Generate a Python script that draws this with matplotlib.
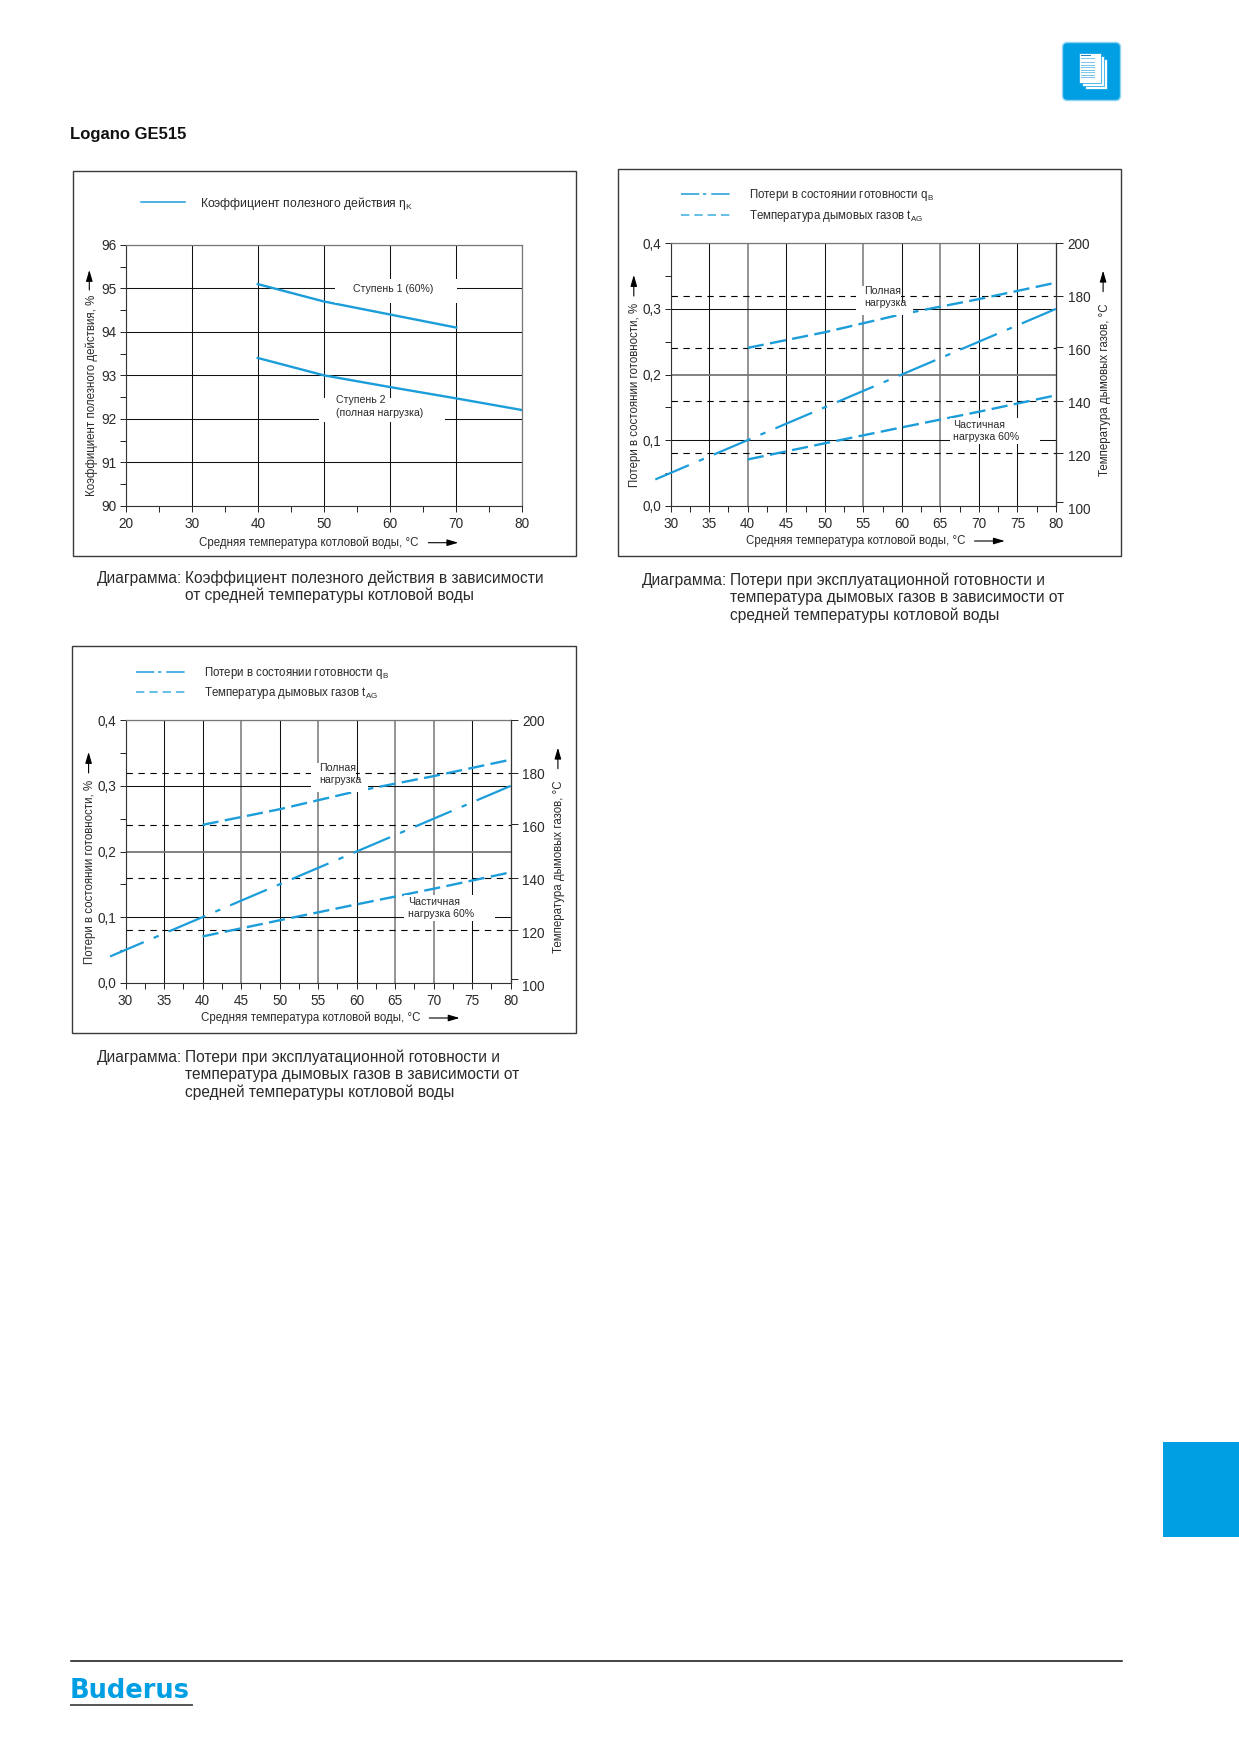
import matplotlib
matplotlib.use("Agg")
import matplotlib.pyplot as plt
from matplotlib.lines import Line2D
from matplotlib.patches import FancyBboxPatch, Rectangle

plt.rcParams['font.family'] = ['Liberation Sans', 'DejaVu Sans']
plt.rcParams['mathtext.fontset'] = 'custom'
plt.rcParams['mathtext.rm'] = 'Liberation Sans'
plt.rcParams['mathtext.default'] = 'rm'
plt.rcParams['lines.scale_dashes'] = False

BLUE = '#1b9dd9'
BRAND = '#009fe3'
INK = '#2a2a2a'

# --- chart 1: efficiency ---
eff_temp_stage1 = [40, 50, 60, 70]
eff_stage1 = [95.1, 94.7, 94.4, 94.1]
eff_temp_stage2 = [40, 50, 60, 70, 80]
eff_stage2 = [93.4, 93.0, 92.73, 92.47, 92.2]
eff_yticks = [90, 91, 92, 93, 94, 95, 96]
eff_xticks = [20, 30, 40, 50, 60, 70, 80]

# --- charts 2 and 3: standby losses and flue gas temperature ---
loss_temp = [28, 40, 50, 60, 70, 80]
loss_values = [0.04, 0.10, 0.15, 0.20, 0.25, 0.30]
flue_temp = [40, 50, 60, 70, 80]
flue_full = [160.8, 166.7, 173.5, 179.2, 185.4]
flue_part = [118.7, 124.8, 130.8, 136.7, 142.9]
loss_xticks = [30, 35, 40, 45, 50, 55, 60, 65, 70, 75, 80]
loss_yticks = [0.0, 0.1, 0.2, 0.3, 0.4]
loss_ylabels = ['0,0', '0,1', '0,2', '0,3', '0,4']
flue_ticks = [100, 120, 140, 160, 180, 200]
flue_marks = [102.6, 121.0, 140.8, 161.0, 180.3, 200.2]
flue_levels = [0.08, 0.16, 0.24, 0.32]

DASHDOT = (2.4, (28.7, 7.8, 3.9, 7.8))
LONGDASH = (0, (11.7, 4.6))
LEGEND_DASHDOT = (0, (13.2, 2.6, 2.4, 3.6, 13.2, 10))
LEGEND_DASH = (0, (6, 3.6))

fig = plt.figure(figsize=(12.39, 17.52), dpi=100)
page = fig.add_axes([0, 0, 1, 1], zorder=-1)
page.set_xlim(0, 1239)
page.set_ylim(1752, 0)
page.axis('off')


def make_axes(left, top, right, bottom):
    return fig.add_axes([left / 1239, 1 - bottom / 1752, (right - left) / 1239, (bottom - top) / 1752])


def arrow(x0, y0, x1, y1):
    page.annotate('', xy=(x1, y1), xytext=(x0, y0),
                  arrowprops=dict(arrowstyle='-|>,head_length=0.75,head_width=0.22', color='black',
                                  lw=0.8, shrinkA=0, shrinkB=0, mutation_scale=9))


def frame(left, top, right, bottom):
    page.add_patch(Rectangle((left, top), right - left, bottom - top, fill=False, ec='#3a3a3a', lw=1.0))


def caption(x, indent, y, first, rest):
    page.text(x, y, 'Диаграмма:', fontsize=11.2, color=INK, va='center')
    for i, line in enumerate([first] + rest):
        page.text(indent, y + i * 17.6, line, fontsize=11.2, color=INK, va='center')


def mask(ax, owner, x0, x1, y0, y1):
    owner.add_patch(Rectangle((x0, y0), x1 - x0, y1 - y0, fc='white', ec='none',
                              transform=ax.transData, zorder=5))


def style_axes(ax):
    ax.set_axisbelow(True)
    ax.grid(True, which='major', color='#111111', lw=0.75)
    ax.tick_params(which='both', direction='out', length=4.3, width=0.7, color='#222222',
                   labelsize=9.8, labelcolor=INK)
    ax.tick_params(axis='x', which='major', pad=3.6)
    ax.tick_params(axis='y', which='major', pad=2.2)
    for side in ['left', 'bottom']:
        ax.spines[side].set_linewidth(0.8)
        ax.spines[side].set_color('#333333')
    for side in ['top', 'right']:
        ax.spines[side].set_linewidth(0.9)
        ax.spines[side].set_color('#777777')


def efficiency_chart():
    frame(72.8, 170.7, 576.2, 556)
    ax = make_axes(125.5, 245, 522.4, 505.7)
    ax.set_xticks(eff_xticks)
    ax.set_xticks([25, 35, 45, 55, 65, 75], minor=True)
    ax.set_yticks(eff_yticks)
    ax.set_yticks([90.5, 91.5, 92.5, 93.5, 94.5, 95.5], minor=True)
    ax.set_xlim(20, 80)
    ax.set_ylim(90, 96)
    style_axes(ax)
    ax.plot(eff_temp_stage1, eff_stage1, color=BLUE, lw=1.7, zorder=3)
    ax.plot(eff_temp_stage2, eff_stage2, color=BLUE, lw=1.7, zorder=3)
    mask(ax, ax, 51.7, 70.16, 94.66, 95.21)
    mask(ax, ax, 49.3, 68.3, 91.93, 92.49)
    ax.text(54.36, 94.98, 'Ступень 1 (60%)', fontsize=7.6, color=INK, va='center', zorder=6)
    ax.text(51.75, 92.28, 'Ступень 2\n(полная нагрузка)', fontsize=7.6, color=INK, va='center',
            linespacing=1.35, zorder=6)
    ax.set_xlabel('Средняя температура котловой воды, °C', fontsize=8.3, color=INK, va='center')
    ax.xaxis.set_label_coords(309, 542.7, transform=page.transData)
    ax.set_ylabel('Коэффициент полезного действия, %', fontsize=8.3, color=INK, va='center')
    ax.yaxis.set_label_coords(91.5, 395.5, transform=page.transData)
    arrow(428.3, 542.7, 458.3, 542.7)
    arrow(89.3, 290, 89.3, 270)
    handle = Line2D([], [], color=BLUE, lw=1.1)
    ax.legend([handle], ['Коэффициент полезного действия η$_{K}$'], loc='center left',
              bbox_to_anchor=(141, 203.2), bbox_transform=page.transData, frameon=False,
              fontsize=8.7, handlelength=3.65, handletextpad=1.25, borderpad=0, borderaxespad=0,
              labelcolor=INK)


def losses_chart(dx, dy, frame_top, frame_bottom, grey_x, legend_y):
    frame(dx + 617.6, frame_top, dx + 1121, frame_bottom)
    ax = make_axes(dx + 670.7, dy + 243.3, dx + 1055.9, dy + 505.7)
    ax.set_xticks(loss_xticks)
    ax.set_xticks([v + 2.5 for v in loss_xticks[:-1]], minor=True)
    ax.set_yticks(loss_yticks, loss_ylabels)
    ax.set_yticks([0.05, 0.15, 0.25, 0.35], minor=True)
    ax.set_xlim(30, 80)
    ax.set_ylim(0, 0.4)
    style_axes(ax)
    for tick, line in zip(ax.get_xticks(), ax.get_xgridlines()):
        if tick in grey_x:
            line.set_color('#777777')
            line.set_linewidth(1.1)
    ax.get_ygridlines()[2].set_color('#777777')
    ax.get_ygridlines()[2].set_linewidth(1.3)
    ax.hlines(flue_levels, 30, 80, colors='black', linewidth=0.8, linestyles=[(0, (4.6, 4.0))], zorder=2)

    # the printed 100 label sits a little below the axis end, so this scale runs slightly lower than the plot
    right = make_axes(dx + 670.7, dy + 243.3, dx + 1055.9, dy + 509)
    right.patch.set_visible(False)
    right.xaxis.set_visible(False)
    right.yaxis.tick_right()
    right.yaxis.set_label_position('right')
    right.set_yticks(flue_ticks)
    right.set_yticks(flue_marks, minor=True)
    right.set_xlim(30, 80)
    right.set_ylim(100, 200.26)
    right.tick_params(axis='y', which='major', length=0, pad=8.4, labelsize=9.8, labelcolor=INK)
    right.tick_params(axis='y', which='minor', direction='out', length=5, width=0.7, color='#222222')
    for side in ['left', 'bottom', 'top']:
        right.spines[side].set_visible(False)
    right.spines['right'].set_color('#333333')
    right.spines['right'].set_linewidth(0.8)
    right.spines['right'].set_bounds(101.26, 200.26)

    ax.plot(loss_temp, loss_values, color=BLUE, lw=1.6, ls=DASHDOT, zorder=3, clip_on=False)
    right.plot(flue_temp, flue_full, color=BLUE, lw=1.7, ls=LONGDASH, zorder=3)
    right.plot(flue_temp, flue_part, color=BLUE, lw=1.7, ls=LONGDASH, zorder=3)

    mask(ax, right, 54.04, 59.95, 0.311, 0.335)
    mask(ax, right, 54.04, 61.5, 0.2907, 0.311)
    mask(ax, right, 66.2, 77.9, 0.0935, 0.133)
    right.text(55.16, 0.318, 'Полная\nнагрузка', fontsize=7.6, color=INK, va='center',
               linespacing=1.28, transform=ax.transData, zorder=6)
    right.text(66.66, 0.1138, 'Частичная\nнагрузка 60%', fontsize=7.6, color=INK, va='center',
               linespacing=1.28, transform=ax.transData, zorder=6)

    ax.set_xlabel('Средняя температура котловой воды, °C', fontsize=8.3, color=INK, va='center')
    ax.xaxis.set_label_coords(dx + 855.5, dy + 541, transform=page.transData)
    ax.set_ylabel('Потери в состоянии готовности, %', fontsize=8.3, color=INK, va='center')
    ax.yaxis.set_label_coords(dx + 635, dy + 395, transform=page.transData)
    right.set_ylabel('Температура дымовых газов, °C', fontsize=8.3, color=INK, va='center', rotation=90)
    right.yaxis.set_label_coords(dx + 1104.6, dy + 390, transform=page.transData)
    arrow(dx + 974.5, dy + 541, dx + 1004.8, dy + 541)
    arrow(dx + 633.8, dy + 296, dx + 633.8, dy + 275)
    arrow(dx + 1103.1, dy + 291.7, dx + 1103.1, dy + 270.7)

    handles = [Line2D([], [], color=BLUE, lw=1.1, ls=LEGEND_DASHDOT),
               Line2D([], [], color='#3aaee0', lw=1.1, ls=LEGEND_DASH)]
    right.legend(handles, ['Потери в состоянии готовности q$_{B}$', 'Температура дымовых газов t$_{AG}$'],
                 loc='center left', bbox_to_anchor=(dx + 681.4, legend_y), bbox_transform=page.transData,
                 frameon=False, fontsize=8.3, handlelength=4.2, handletextpad=1.65, labelspacing=0.42,
                 borderpad=0, borderaxespad=0, labelcolor=INK)


efficiency_chart()
losses_chart(0, 0, 169, 556.3, [40, 55, 65], 205.7)
losses_chart(-545.2, 477, 646, 1033.3, [45, 55, 65, 70], 683)

page.text(69.5, 134.5, 'Logano GE515', fontsize=12, fontweight='bold', color='#111111', va='center')
caption(96.9, 184.8, 578, 'Коэффициент полезного действия в зависимости',
        ['от средней температуры котловой воды'])
caption(641.7, 729.7, 580, 'Потери при эксплуатационной готовности и',
        ['температура дымовых газов в зависимости от', 'средней температуры котловой воды'])
caption(96.9, 184.8, 1057.3, 'Потери при эксплуатационной готовности и',
        ['температура дымовых газов в зависимости от', 'средней температуры котловой воды'])

# document icon, side tab and footer
page.add_patch(FancyBboxPatch((1065, 45), 53, 53, boxstyle='round,pad=2.5,rounding_size=5',
                              fc=BRAND, ec='#8fd4f2', lw=1.0))
for x, y in [(1085, 59), (1082, 56), (1078.5, 52.5)]:
    page.add_patch(Rectangle((x, y), 22, 30, fc='white', ec=BRAND, lw=0.5))
for i, y in enumerate([55, 57.5, 62, 64.5, 67, 69.5, 72, 74.5, 77]):
    width = 10 if i == 0 else 14
    page.add_patch(Rectangle((1081, y), width, 1.1, fc='#7cc8ec' if i else '#2a80b8', ec='none'))
page.add_patch(Rectangle((1163, 1442), 76, 95, fc=BRAND, ec='none'))
page.plot([70.7, 1121.5], [1661.3, 1661.3], color='#111111', lw=1.1)
page.text(69.5, 1690.5, 'Buderus', fontsize=18.5, fontweight='bold', family='DejaVu Sans', color=BRAND, va='center')
page.plot([70.7, 192], [1705, 1705], color='#555555', lw=1.4)

fig.savefig('out.png', dpi=100)
